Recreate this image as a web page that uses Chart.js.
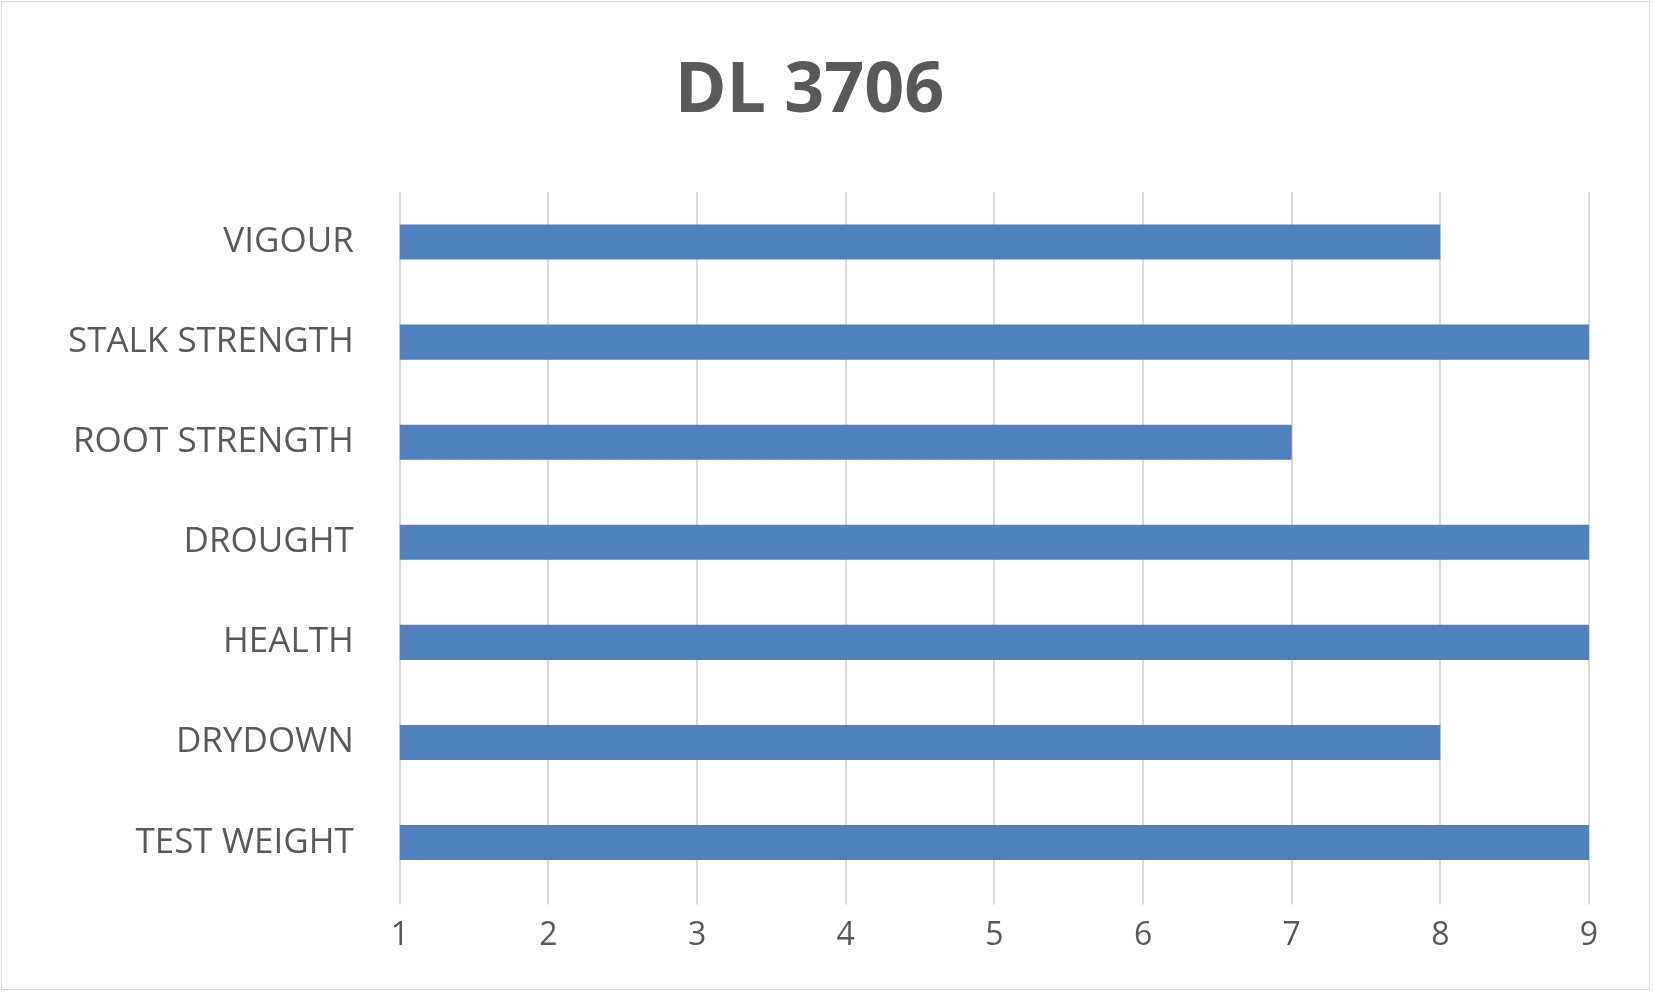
<!DOCTYPE html>
<html><head><meta charset="utf-8">
<script src="https://cdn.jsdelivr.net/npm/chart.js@4"></script>
<style>html,body{margin:0;padding:0;background:#fff;}
#wrap{position:absolute;left:1px;top:1px;width:1649px;height:989px;border:1px solid #d9d9d9;box-sizing:border-box;}
</style></head><body>
<div id="wrap"><canvas id="c" width="1649" height="989"></canvas></div>
<script>
const categories = ["VIGOUR","STALK STRENGTH","ROOT STRENGTH","DROUGHT","HEALTH","DRYDOWN","TEST WEIGHT"];
const values = [8,9,7,9,9,8,9];
const tickLabels = ["1","2","3","4","5","6","7","8","9"];
new Chart(document.getElementById('c'), {
  type: 'bar',
  data: { labels: categories, datasets: [{ data: values, backgroundColor: '#4F81BD', barPercentage: 0.7, categoryPercentage: 0.5 }] },
  options: {
    indexAxis: 'y', responsive: false, animation: false,
    layout: { padding: { left: 28, right: 62, top: 28, bottom: 24 } },
    plugins: { legend: { display: false }, tooltip: { enabled: false },
      title: { display: true, text: 'DL 3706', color: '#595959', font: { family: 'Open Sans', size: 70, weight: 'bold' }, padding: { top: 20, bottom: 58 } } },
    scales: {
      x: { min: 1, max: 9, ticks: { stepSize: 1, color: '#595959', font: { family: 'Open Sans', size: 32 }, padding: 12, callback: (v, i) => tickLabels[i] },
           grid: { color: '#d9d9d9', lineWidth: 2, tickLength: 12 }, border: { display: false } },
      y: { ticks: { color: '#595959', font: { family: 'Open Sans', size: 35 }, padding: 38 }, grid: { display: false }, border: { display: false } }
    }
  }
});
</script></body></html>
